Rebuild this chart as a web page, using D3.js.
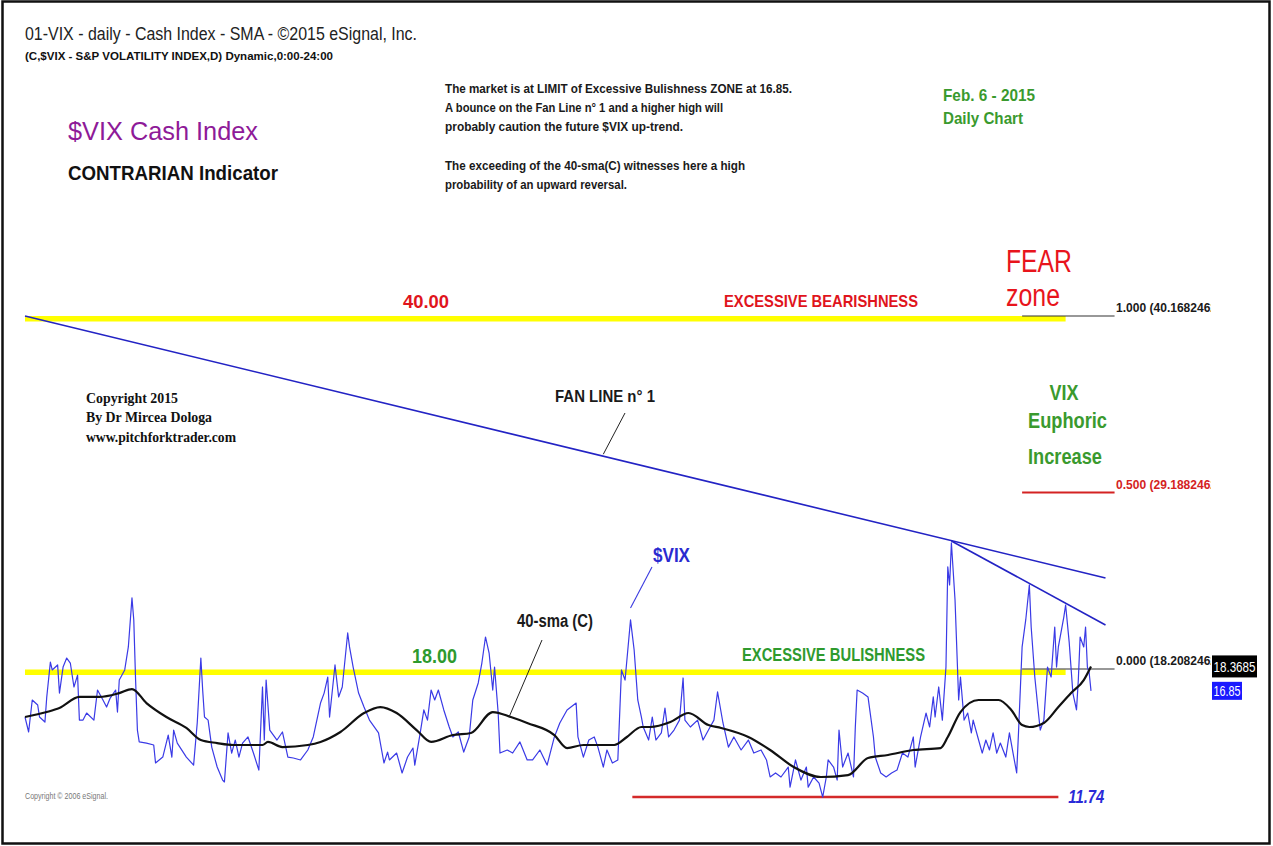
<!DOCTYPE html>
<html><head><meta charset="utf-8">
<script src="https://cdn.jsdelivr.net/npm/d3@7"></script>
<style>body{margin:0;background:#fff}svg{display:block}</style>
</head><body><svg id="c" width="1273" height="846"></svg>
<script>
// ---- DATA (trading-day index since start, value in VIX points) ----
const vixSeries = [[0,15.22],[2,14.29],[4,16.28],[7,15.97],[8,15.22],[11,14.91],[12,16.47],[14,18.64],[15,18.15],[18,18.46],[19,16.71],[21,18.33],[23,18.89],[25,18.58],[27,17.09],[29,17.83],[30,15.03],[32,15.03],[34,15.47],[38,15.03],[40,16.90],[43,16.28],[45,15.84],[47,16.40],[50,16.90],[51,15.53],[52,17.52],[55,18.15],[57,19.58],[59,22.63],[60,21.26],[61,17.52],[62,14.41],[63,13.67],[67,13.60],[71,13.48],[72,12.36],[76,12.73],[79,14.10],[81,12.73],[82,14.41],[84,13.60],[89,12.73],[93,12.23],[95,14.85],[97,18.89],[98,16.90],[99,15.22],[101,15.03],[103,13.35],[106,12.11],[109,11.30],[110,11.18],[112,14.23],[114,12.98],[116,13.79],[118,12.73],[120,13.60],[123,13.98],[126,12.98],[129,11.92],[131,17.09],[132,13.79],[133,17.52],[135,14.41],[139,13.79],[142,14.29],[145,12.73],[148,12.67],[152,12.55],[156,13.17],[159,13.98],[163,16.09],[165,16.71],[167,17.71],[168,15.22],[171,18.46],[173,16.47],[175,17.09],[178,20.45],[179,19.58],[181,18.33],[184,16.71],[187,15.84],[190,15.03],[195,14.23],[198,12.36],[200,13.04],[201,12.55],[205,12.98],[208,11.74],[211,12.73],[214,13.29],[215,12.23],[218,14.23],[220,15.66],[222,15.03],[224,16.90],[226,16.28],[228,16.90],[231,15.66],[234,14.60],[236,13.98],[239,14.29],[242,13.04],[245,13.98],[247,16.28],[250,17.34],[252,18.58],[254,20.20],[256,19.20],[258,16.90],[259,18.33],[261,15.47],[262,12.98],[266,13.17],[269,12.98],[273,13.67],[277,12.55],[280,12.55],[284,13.17],[288,12.23],[292,13.98],[295,14.85],[299,15.66],[304,16.09],[305,13.98],[308,12.73],[311,13.79],[314,13.98],[316,13.35],[319,12.11],[321,13.17],[324,12.36],[327,12.55],[329,18.15],[331,17.52],[334,21.26],[336,19.39],[338,16.28],[340,15.22],[341,14.60],[344,13.79],[346,15.22],[348,13.79],[351,14.23],[353,15.78],[355,13.98],[358,14.41],[361,15.03],[363,17.65],[364,15.03],[367,14.60],[371,15.03],[374,13.79],[377,14.41],[380,15.03],[382,16.78],[385,14.85],[388,13.35],[391,13.98],[395,13.17],[399,13.79],[402,12.98],[406,13.17],[409,12.55],[411,11.49],[414,11.74],[417,11.49],[421,12.11],[422,10.86],[425,12.55],[428,11.30],[431,12.11],[432,10.86],[435,11.49],[438,11.11],[440,10.24],[442,11.49],[443,12.55],[446,12.11],[448,11.30],[449,14.41],[451,12.11],[454,12.98],[457,11.49],[458,14.60],[459,16.90],[462,16.71],[465,16.47],[468,13.98],[469,12.73],[472,11.74],[475,11.49],[478,11.74],[481,11.92],[484,12.98],[487,12.73],[490,13.98],[491,12.11],[494,13.98],[497,15.47],[499,14.60],[501,16.47],[502,15.22],[504,17.09],[506,15.03],[508,18.33],[509,24.56],[510,23.44],[511,26.05],[513,22.50],[515,16.28],[516,17.71],[518,15.03],[520,15.47],[522,14.23],[523,15.03],[526,13.79],[528,12.98],[530,13.79],[532,13.17],[534,14.23],[536,12.98],[538,13.60],[541,12.73],[543,14.23],[545,12.98],[547,11.74],[548,14.23],[550,19.58],[552,21.26],[554,23.44],[555,20.82],[557,17.71],[559,15.47],[560,14.41],[562,15.03],[564,18.33],[566,17.71],[568,20.82],[569,18.33],[570,19.58],[573,21.44],[574,22.19],[576,19.83],[578,16.71],[580,15.66],[581,17.52],[582,20.20],[584,19.58],[585,20.82],[586,18.33],[587,17.96],[588,16.85]];

const smaSeries = [[0,15.22],[12,15.53],[19,15.78],[30,16.47],[41,16.47],[52,16.71],[59,16.96],[67,16.09],[78,15.22],[89,14.54],[97,13.79],[106,13.60],[115,13.48],[131,13.48],[134,13.67],[142,13.35],[156,13.48],[163,13.67],[174,14.29],[187,15.47],[196,15.84],[205,15.47],[216,14.41],[224,13.67],[236,14.10],[246,14.23],[258,15.53],[268,15.22],[277,14.85],[292,14.10],[299,13.29],[308,13.48],[325,13.48],[332,13.98],[340,14.60],[345,14.60],[356,14.91],[366,15.47],[377,14.72],[384,14.54],[399,13.98],[411,13.17],[424,12.11],[439,11.49],[454,11.61],[465,12.67],[476,12.86],[490,13.17],[505,13.29],[509,13.98],[516,15.53],[526,16.28],[537,16.28],[544,15.66],[550,14.72],[554,14.60],[562,14.85],[570,15.84],[577,16.71],[584,17.52],[588,18.37]];

const fanLine1 = [[0,40.17],[596,23.87]];
const fanLine2 = [[511,26.17],[596,20.95]];

const fibRatios = ["0.000","0.500","1.000"];
const fibValues = [18.2082462, 29.1882462, 40.1682462];
const fibDays = [550, 601];

const zoneLevels = [18.00, 40.00];
const zoneLabels = ["18.00", "40.00"];
const zoneDays = [0, 574];

const supportValue = 10.24;
const supportLabel = "11.74";
const supportDays = [335, 570];

const lastClose = 16.85;
const lastSma = 18.3685;
const lastDay = 588;

// ---- SCALES ----
const svg = d3.select("#c");
const x = d3.scaleLinear().domain([0, lastDay]).range([25, 1091]);
const y = d3.scaleLinear().domain([fibValues[0], fibValues[2]]).range([669, 316]);

const NARROW = "'Liberation Sans Narrow','Arial Narrow','Liberation Sans',Arial,sans-serif";
const SANS = "'Liberation Sans',Arial,sans-serif";
const SERIF = "'Liberation Serif','Times New Roman',serif";

function txt(px, py, s, o) {
  const t = svg.append("text").attr("x", px).attr("y", py).text(s)
    .attr("font-family", o.family || NARROW)
    .attr("font-size", o.size)
    .attr("font-weight", o.weight || "bold")
    .attr("fill", o.fill || "#111");
  if (o.len) t.attr("textLength", o.len).attr("lengthAdjust", "spacingAndGlyphs");
  if (o.style) t.attr("font-style", o.style);
  if (o.anchor) t.attr("text-anchor", o.anchor);
  if (o.clip) t.attr("clip-path", o.clip);
  return t;
}

// frame
svg.append("rect").attr("x", 2.5).attr("y", 1.5).attr("width", 1267).attr("height", 842)
  .attr("fill", "none").attr("stroke", "#111").attr("stroke-width", 2.5);

const defs = svg.append("defs");
defs.append("clipPath").attr("id", "rclip").append("rect")
  .attr("x", 1100).attr("y", 0).attr("width", 111).attr("height", 846);

// header texts
txt(25, 40, "01-VIX - daily - Cash Index - SMA - \u00A92015 eSignal, Inc.", {family: SANS, size: 17.5, weight: "normal", fill: "#222", len: 392});
txt(25, 60, "(C,$VIX - S&P VOLATILITY INDEX,D) Dynamic,0:00-24:00", {size: 11.5, fill: "#111", len: 308});
txt(68, 140, "$VIX Cash Index", {family: SANS, size: 25, weight: "normal", fill: "#8e1a98", len: 190});
txt(68, 180, "CONTRARIAN Indicator", {family: SANS, size: 20, weight: "bold", fill: "#111", len: 210});

const note = [
  ["The market is at LIMIT of Excessive Bulishness ZONE at 16.85.", 347],
  ["A bounce on the Fan Line n\u00B0 1 and a higher high will", 278],
  ["probably caution the future $VIX up-trend.", 238],
  ["", 0],
  ["The exceeding of the 40-sma(C) witnesses here a high", 300],
  ["probability of an upward reversal.", 182]
];
note.forEach((d, i) => { if (d[0]) txt(445, 93 + i * 19.2, d[0], {size: 13, fill: "#1a1a1a", len: d[1]}); });

txt(943, 101, "Feb. 6 - 2015", {size: 17, fill: "#3a9a2e", len: 92});
txt(943, 124, "Daily Chart", {size: 17, fill: "#3a9a2e", len: 80});

// copyright block
txt(86, 403, "Copyright 2015", {family: SERIF, size: 14.5, fill: "#111", len: 92});
txt(86, 422, "By Dr Mircea Dologa", {family: SERIF, size: 14.5, fill: "#111", len: 126});
txt(86, 442, "www.pitchforktrader.com", {family: SERIF, size: 14.5, fill: "#111", len: 150});
txt(25, 799, "Copyright \u00A9 2006 eSignal.", {family: SANS, size: 8.5, weight: "normal", fill: "#777", len: 83});

// ---- yellow zone lines ----
svg.append("g").selectAll("line").data(zoneLevels).join("line")
  .attr("x1", x(zoneDays[0])).attr("x2", x(zoneDays[1]))
  .attr("y1", d => y(d)).attr("y2", d => y(d))
  .attr("stroke", "#ffff00").attr("stroke-width", 5.5);

// fib lines
svg.append("g").selectAll("line").data(fibValues).join("line")
  .attr("x1", x(fibDays[0])).attr("x2", x(fibDays[1]))
  .attr("y1", d => y(d)).attr("y2", d => y(d))
  .attr("stroke", (d, i) => i === 1 ? "#d42222" : "#333")
  .attr("stroke-width", (d, i) => i === 1 ? 2 : 1.2);

fibValues.forEach((v, i) => {
  txt(x(fibDays[1]) + 1.5, y(v) - 4, fibRatios[i] + " (" + v.toFixed(7), {size: 12.5, fill: i === 1 ? "#d42222" : "#1a1a1a", len: 101, clip: "url(#rclip)"});
});

// support line
svg.append("line").attr("x1", x(supportDays[0])).attr("x2", x(supportDays[1]))
  .attr("y1", y(supportValue)).attr("y2", y(supportValue))
  .attr("stroke", "#d42a2a").attr("stroke-width", 2.5);
txt(x(supportDays[1]) + 10, y(supportValue) + 6, supportLabel, {family: SANS, size: 18, style: "italic", fill: "#2a2ad8", len: 36});

// fan lines
const lineGen = d3.line().x(d => x(d[0])).y(d => y(d[1]));
[fanLine1, fanLine2].forEach(f => {
  svg.append("path").attr("d", lineGen(f)).attr("fill", "none")
    .attr("stroke", "#2323c4").attr("stroke-width", 1.6);
});

// VIX series
svg.append("path").attr("d", lineGen(vixSeries)).attr("fill", "none")
  .attr("stroke", "#3a3ae6").attr("stroke-width", 1.2).attr("stroke-linejoin", "round");

// SMA
const smaGen = d3.line().x(d => x(d[0])).y(d => y(d[1])).curve(d3.curveMonotoneX);
svg.append("path").attr("d", smaGen(smaSeries)).attr("fill", "none")
  .attr("stroke", "#111").attr("stroke-width", 2.2);

// zone labels
txt(403, y(zoneLevels[1]) - 11, zoneLabels[1], {family: SANS, size: 19, fill: "#e0141c", len: 46});
txt(724, y(zoneLevels[1]) - 12, "EXCESSIVE BEARISHNESS", {size: 17, fill: "#e0141c", len: 194});
txt(412, y(zoneLevels[0]) - 9, zoneLabels[0], {family: SANS, size: 20, fill: "#2e9a2e", len: 45});
txt(742, y(zoneLevels[0]) - 11, "EXCESSIVE BULISHNESS", {size: 19, fill: "#2e9a2e", len: 183});

txt(1006, 272, "FEAR", {size: 31, weight: "normal", fill: "#e8141c", len: 66});
txt(1006, 306, "zone", {size: 31, weight: "normal", fill: "#e8141c", len: 54});

txt(1064, 400, "VIX", {size: 22, fill: "#3a9a2e", anchor: "middle", len: 29});
txt(1028, 428, "Euphoric", {size: 22, fill: "#3a9a2e", len: 79});
txt(1028, 464, "Increase", {size: 22, fill: "#3a9a2e", len: 74});

// annotations with pointers
txt(555, 402, "FAN LINE n\u00B0 1", {size: 16.5, fill: "#1a1a1a", len: 100});
svg.append("line").attr("x1", 625).attr("y1", 413).attr("x2", x(319)).attr("y2", lineGen.y()([319, 40.17 + (23.87 - 40.17) * 319 / 596]) - 2)
  .attr("stroke", "#222").attr("stroke-width", 1);

txt(653, 562, "$VIX", {size: 20, fill: "#2a2ad0", len: 37});
svg.append("line").attr("x1", 652).attr("y1", 567).attr("x2", x(334)).attr("y2", y(21.26) - 12)
  .attr("stroke", "#3a3ae0").attr("stroke-width", 1.1);

txt(517, 627, "40-sma (C)", {size: 18, fill: "#1a1a1a", len: 76});
svg.append("line").attr("x1", 542).attr("y1", 640).attr("x2", x(267)).attr("y2", y(15.22))
  .attr("stroke", "#222").attr("stroke-width", 1);

// last value tags
const tagX = 1212;
svg.append("rect").attr("x", tagX).attr("y", y(lastSma) - 11).attr("width", 45).attr("height", 22).attr("fill", "#000");
txt(tagX + 1.5, y(lastSma) + 6, lastSma.toFixed(4), {size: 15.5, weight: "normal", fill: "#fff", len: 42});
svg.append("rect").attr("x", tagX).attr("y", y(lastClose) - 9).attr("width", 30).attr("height", 18).attr("fill", "#1a1aff");
txt(tagX + 1.5, y(lastClose) + 5.5, lastClose.toFixed(2), {size: 15, weight: "normal", fill: "#fff", len: 27});
</script>
</body></html>
